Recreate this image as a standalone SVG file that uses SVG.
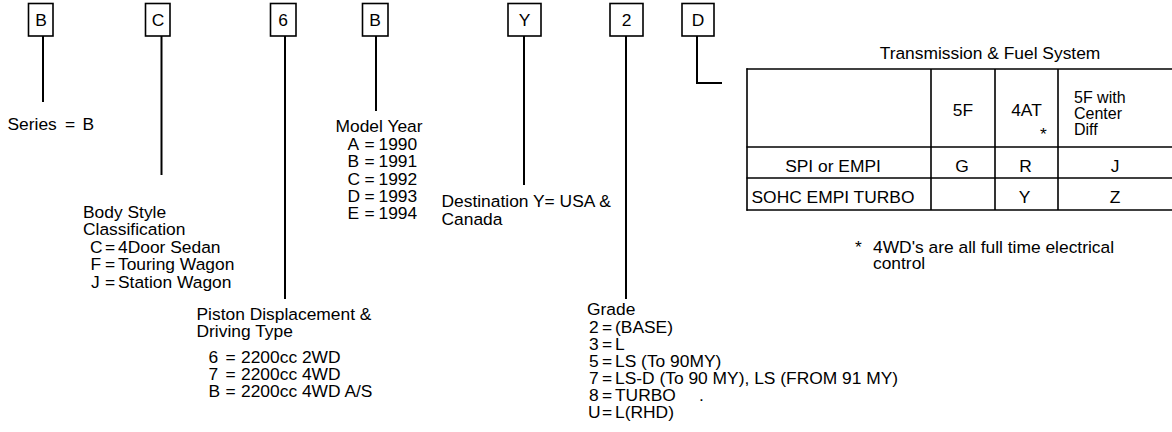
<svg xmlns="http://www.w3.org/2000/svg" width="1172" height="432" viewBox="0 0 1172 432">
<style>
text{font-family:"Liberation Sans",Arial,sans-serif;font-size:17.4px;fill:#000}
.box{fill:#fff;stroke:#000;stroke-width:1.6}
.c{text-anchor:middle}
.sm{font-size:16px}
.ln{stroke:#000;stroke-width:2;fill:none}
.tb{stroke:#000;stroke-width:1.6;fill:none}
</style>
<rect width="1172" height="432" fill="#fff"/>
<g id="connectors">
<line class="ln" x1="43" y1="36" x2="43" y2="102"/>
<line class="ln" x1="161.5" y1="36" x2="161.5" y2="175"/>
<line class="ln" x1="285" y1="36" x2="285" y2="299"/>
<line class="ln" x1="376" y1="36" x2="376" y2="111"/>
<line class="ln" x1="524" y1="36" x2="524" y2="185"/>
<line class="ln" x1="626" y1="36" x2="626" y2="299"/>
<polyline class="ln" points="697,36 697,83 722,83"/>
</g>
<g id="box-b1"><rect class="box" x="28.5" y="3.5" width="24.5" height="32.5"/><text class="c" x="41" y="26">B</text></g>
<g id="box-c"><rect class="box" x="145.5" y="3.5" width="24.5" height="32.5"/><text class="c" x="158" y="26">C</text></g>
<g id="box-6"><rect class="box" x="270.5" y="3.5" width="25.5" height="32.5"/><text class="c" x="283" y="26">6</text></g>
<g id="box-b2"><rect class="box" x="362.5" y="3.5" width="25.5" height="32.5"/><text class="c" x="375" y="26">B</text></g>
<g id="box-y"><rect class="box" x="508" y="3.5" width="33" height="32.5"/><text class="c" x="524.5" y="26">Y</text></g>
<g id="box-2"><rect class="box" x="610" y="3.5" width="33" height="32.5"/><text class="c" x="626.5" y="26">2</text></g>
<g id="box-d"><rect class="box" x="682" y="3.5" width="32" height="32.5"/><text class="c" x="698" y="26">D</text></g>
<g id="series">
<text y="129.5"><tspan x="7.5">Series</tspan><tspan x="65">=</tspan><tspan x="82.5">B</tspan></text>
</g>
<g id="body-style">
<text x="83" y="217.5">Body Style</text>
<text x="83" y="235">Classification</text>
<text y="252.5"><tspan x="90">C</tspan><tspan x="105">=</tspan><tspan x="118">4Door Sedan</tspan></text>
<text y="270"><tspan x="90.5">F</tspan><tspan x="105">=</tspan><tspan x="118">Touring Wagon</tspan></text>
<text y="287.5"><tspan x="91">J</tspan><tspan x="105">=</tspan><tspan x="118">Station Wagon</tspan></text>
</g>
<g id="piston">
<text x="196.5" y="320">Piston Displacement &amp;</text>
<text x="196.5" y="337">Driving Type</text>
<text y="362.5"><tspan x="208.5">6</tspan><tspan x="225.5">=</tspan><tspan x="241">2200cc 2WD</tspan></text>
<text y="379.5"><tspan x="208.5">7</tspan><tspan x="225.5">=</tspan><tspan x="241">2200cc 4WD</tspan></text>
<text y="396.5"><tspan x="208.5">B</tspan><tspan x="225.5">=</tspan><tspan x="241">2200cc 4WD A/S</tspan></text>
</g>
<g id="model-year">
<text x="335.5" y="132">Model Year</text>
<text y="149.5"><tspan x="347.5">A</tspan><tspan x="364.5">=</tspan><tspan x="378.5">1990</tspan></text>
<text y="167"><tspan x="347.5">B</tspan><tspan x="364.5">=</tspan><tspan x="378.5">1991</tspan></text>
<text y="184.5"><tspan x="347.5">C</tspan><tspan x="364.5">=</tspan><tspan x="378.5">1992</tspan></text>
<text y="201.5"><tspan x="347.5">D</tspan><tspan x="364.5">=</tspan><tspan x="378.5">1993</tspan></text>
<text y="218.5"><tspan x="347.5">E</tspan><tspan x="364.5">=</tspan><tspan x="378.5">1994</tspan></text>
</g>
<g id="destination">
<text x="441.5" y="207">Destination Y= USA &amp;</text>
<text x="441.5" y="225">Canada</text>
</g>
<g id="grade">
<text x="587" y="315">Grade</text>
<text y="332.5"><tspan x="589">2</tspan><tspan x="602">=</tspan><tspan x="615">(BASE)</tspan></text>
<text y="349.5"><tspan x="589">3</tspan><tspan x="602">=</tspan><tspan x="615">L</tspan></text>
<text y="366.5"><tspan x="589">5</tspan><tspan x="602">=</tspan><tspan x="615">LS (To 90MY)</tspan></text>
<text y="383.5"><tspan x="589">7</tspan><tspan x="602">=</tspan><tspan x="615">LS-D (To 90 MY), LS (FROM 91 MY)</tspan></text>
<text y="400.5"><tspan x="589">8</tspan><tspan x="602">=</tspan><tspan x="615">TURBO</tspan><tspan x="699">.</tspan></text>
<text y="418"><tspan x="588">U</tspan><tspan x="602">=</tspan><tspan x="615">L(RHD)</tspan></text>
</g>
<g id="transmission-table">
<text class="c" x="990" y="59">Transmission &amp; Fuel System</text>
<line class="tb" x1="746.5" y1="69" x2="1172" y2="69"/>
<line class="tb" x1="746.5" y1="147" x2="1172" y2="147"/>
<line class="tb" x1="746.5" y1="178" x2="1172" y2="178"/>
<line class="tb" x1="746.5" y1="210" x2="1172" y2="210"/>
<line class="tb" x1="747" y1="68.2" x2="747" y2="210.8"/>
<line class="tb" x1="931" y1="69" x2="931" y2="210"/>
<line class="tb" x1="995" y1="69" x2="995" y2="210"/>
<line class="tb" x1="1058" y1="69" x2="1058" y2="210"/>
<text class="c" x="963" y="116">5F</text>
<text class="c" x="1026.5" y="116">4AT</text>
<text class="c" x="1043.5" y="140">*</text>
<text class="sm" x="1074" y="103">5F with</text>
<text class="sm" x="1074" y="119">Center</text>
<text class="sm" x="1074" y="135">Diff</text>
<text class="c" x="833" y="171.5">SPI or EMPI</text>
<text class="c" x="962" y="171.5">G</text>
<text class="c" x="1025.5" y="171.5">R</text>
<text class="c" x="1115" y="171.5">J</text>
<text class="c" x="833" y="202.5">SOHC EMPI TURBO</text>
<text class="c" x="1024.5" y="202.5">Y</text>
<text class="c" x="1115" y="202.5">Z</text>
</g>
<g id="footnote">
<text x="855" y="253">*</text>
<text x="873" y="252.5">4WD's are all full time electrical</text>
<text x="873" y="269">control</text>
</g>
</svg>
